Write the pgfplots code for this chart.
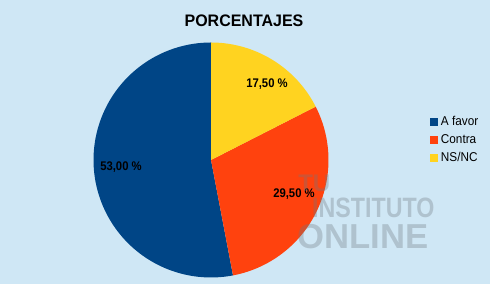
\documentclass[border=0pt]{standalone}
\usepackage{pgfplots}
\pgfplotsset{compat=1.18}
\usepackage{fontspec}
\setmainfont{Liberation Sans}
\definecolor{bgc}{HTML}{CFE7F5}
\definecolor{cfav}{HTML}{004586}
\definecolor{ccon}{HTML}{FF420E}
\definecolor{cns}{HTML}{FFD320}
\definecolor{wm}{HTML}{6E7880}
% data (percentages)
\def\vFavor{53.00}
\def\vContra{29.50}
\def\vNSNC{17.50}
\pgfmathsetmacro{\aA}{90}
\pgfmathsetmacro{\aB}{90-3.6*\vNSNC}
\pgfmathsetmacro{\aC}{\aB-3.6*\vContra}
\pgfmathsetmacro{\aD}{\aC-3.6*\vFavor}
\begin{document}
\begin{tikzpicture}
\begin{axis}[
  scale only axis, width=367.5pt, height=213pt,
  xmin=0, xmax=490, ymin=0, ymax=284,
  hide axis, clip=false,
  legend style={at={(axis cs:430,168)}, anchor=north west, draw=none, fill=none,
    font=\fontsize{9.6}{11}\selectfont, row sep=4.5pt, inner sep=0pt,
    nodes={inner sep=0pt, text height=7pt, text depth=2pt, xscale=0.92},
    cells={anchor=west}},
  legend image code/.code={\fill[#1] (0pt,-3pt) rectangle (6pt,3pt); \path (8pt,0pt);},
]
\fill[bgc] (axis cs:0,0) rectangle (axis cs:490,284);
\addplot[fill=cfav, draw=none, domain=\aD:\aC, samples=90] ({211+117.5*cos(x)},{124+117.5*sin(x)}) -- (axis cs:211,124) -- cycle;
\addlegendentry{A favor}
\addplot[fill=ccon, draw=none, domain=\aC:\aB, samples=60] ({211+117.5*cos(x)},{124+117.5*sin(x)}) -- (axis cs:211,124) -- cycle;
\addlegendentry{Contra}
\addplot[fill=cns, draw=none, domain=\aB:\aA, samples=40] ({211+117.5*cos(x)},{124+117.5*sin(x)}) -- (axis cs:211,124) -- cycle;
\addlegendentry{NS/NC}
\node[font=\bfseries\fontsize{12.5}{15}\selectfont, xscale=0.96] at (axis cs:244,263) {PORCENTAJES};
\node[font=\bfseries\fontsize{9.4}{11}\selectfont, xscale=0.9] at (axis cs:121,117) {53,00 \%};
\node[font=\bfseries\fontsize{9.4}{11}\selectfont, xscale=0.9] at (axis cs:267,200) {17,50 \%};
\node[font=\bfseries\fontsize{9.4}{11}\selectfont, xscale=0.9] at (axis cs:294,90) {29,50 \%};
\begin{scope}[opacity=0.33]
\node[font=\bfseries\fontsize{18}{19}\selectfont, text=wm, anchor=west, inner sep=0pt] at (axis cs:298,101) {TU};
\node[font=\bfseries\fontsize{21}{22}\selectfont, text=wm, anchor=west, xscale=0.83, inner sep=0pt] at (axis cs:312,76) {INSTITUTO};
\node[font=\bfseries\fontsize{26}{27}\selectfont, text=wm, anchor=west, inner sep=0pt] at (axis cs:297,47) {ONLINE};
\end{scope}
\end{axis}
\end{tikzpicture}
\end{document}
